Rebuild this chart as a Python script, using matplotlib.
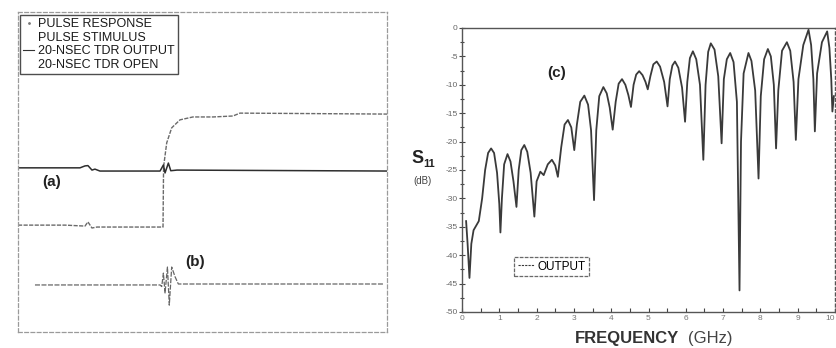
import matplotlib
matplotlib.use("Agg")
import matplotlib.pyplot as plt
from matplotlib.lines import Line2D

plt.rcParams['font.family'] = ['Liberation Sans', 'DejaVu Sans']

# ---------------- left panel data (time in ns, amplitude arbitrary) ----------------
tdr_open_t = [0, 2.55, 3.63, 3.79, 4.01, 4.28, 7.86, 7.89, 8.06, 8.33, 8.78, 9.48, 10.57, 11.65, 12.03, 20]
tdr_open_a = [33.4, 33.4, 33.1, 34.4, 32.5, 32.8, 32.8, 51.6, 59.1, 63.8, 66.3, 67.2, 67.2, 67.5, 68.4, 68.1]

tdr_out_t = [0, 3.36, 3.63, 3.79, 4.01, 4.17, 4.44, 7.70, 7.88, 7.97, 8.15, 8.28, 8.62, 20]
tdr_out_a = [51.3, 51.3, 51.9, 52.0, 50.6, 50.9, 50.3, 50.3, 52.2, 49.7, 52.8, 50.4, 50.6, 50.3]

pulse_resp_t = [0.92, 7.70, 7.79, 7.88, 7.97, 8.10, 8.20, 8.33, 8.51, 8.69, 19.78]
pulse_resp_a = [14.7, 14.7, 14.2, 18.4, 12.2, 20.3, 8.4, 20.3, 17.3, 15.0, 15.0]

legend_labels = ["PULSE RESPONSE", "PULSE STIMULUS", "20-NSEC TDR OUTPUT", "20-NSEC TDR OPEN"]

# ---------------- right panel data ----------------
freq_ghz = [0.11, 0.15, 0.20, 0.25, 0.31, 0.45, 0.54, 0.62, 0.70, 0.78, 0.86, 0.94, 1.00, 1.03, 1.07,
            1.13, 1.22, 1.30, 1.38, 1.46, 1.52, 1.59, 1.67, 1.75, 1.84, 1.94, 2.00, 2.10, 2.19, 2.30,
            2.41, 2.50, 2.57, 2.66, 2.75, 2.84, 2.93, 3.01, 3.08, 3.17, 3.28, 3.38, 3.46, 3.54, 3.60,
            3.68, 3.79, 3.88, 3.96, 4.04, 4.12, 4.20, 4.29, 4.38, 4.46, 4.53, 4.60, 4.67, 4.75, 4.84,
            4.92, 4.98, 5.05, 5.13, 5.22, 5.31, 5.42, 5.51, 5.57, 5.64, 5.71, 5.80, 5.90, 5.98, 6.04,
            6.11, 6.19, 6.28, 6.38, 6.47, 6.53, 6.60, 6.67, 6.77, 6.87, 6.96, 7.02, 7.10, 7.19, 7.28,
            7.37, 7.44, 7.48, 7.55, 7.68, 7.76, 7.86, 7.95, 8.01, 8.10, 8.20, 8.28, 8.36, 8.42, 8.48,
            8.58, 8.71, 8.80, 8.89, 8.95, 9.02, 9.15, 9.29, 9.36, 9.42, 9.46, 9.52, 9.65, 9.79, 9.85,
            9.90, 9.93, 9.97]
s11_db = [-34, -38, -44, -38, -35.6, -34, -30, -25, -22, -21.2, -22, -25.5, -31, -36, -30,
          -24, -22.2, -23.5, -27, -31.5, -25, -21.5, -20.6, -21.8, -25.5, -33.2, -27, -25.3, -25.9, -24,
          -23.2, -24.2, -26.2, -21, -17, -16.2, -17.5, -21.5, -17, -13, -11.9, -13.5, -18, -30.3, -18,
          -12, -10.4, -11.5, -14, -17.9, -13, -9.8, -9.0, -10, -11.8, -13.9, -10, -8.2, -7.6, -8.3,
          -9.5, -10.8, -8.5, -6.4, -5.9, -6.8, -9.5, -13.8, -9, -6.6, -5.9, -7, -10.5, -16.5, -9.5,
          -5.3, -4.1, -5.5, -10, -23.2, -10, -4.2, -2.7, -3.8, -8.5, -20.3, -9, -5.5, -4.4, -6,
          -13, -46.2, -20, -8, -4.4, -5.8, -11, -26.5, -12, -5.5, -3.7, -5, -10, -21.2, -11,
          -4, -2.5, -4, -9.5, -19.7, -9, -3, -0.3, -3, -9, -18.2, -8, -2.5, -0.6, -3.5,
          -9, -14.7, -12]

xticks = [0, 1, 2, 3, 4, 5, 6, 7, 8, 9, 10]
yticks = [0, -5, -10, -15, -20, -25, -30, -35, -40, -45, -50]

W, H = 836, 348
fig = plt.figure(figsize=(W / 100, H / 100), dpi=100)

# ---------------- left panel ----------------
axl = fig.add_axes([18 / W, 1 - 332 / H, 369 / W, 320 / H])
axl.set_xlim(0, 20)
axl.set_ylim(0, 100)
axl.set_xticks([])
axl.set_yticks([])
for s in axl.spines.values():
    s.set_linestyle((0, (3, 2)))
    s.set_color('#9a9a9a')
    s.set_linewidth(0.9)

axl.plot(tdr_open_t, tdr_open_a, color='#6a6a6a', lw=1.0, linestyle=(0, (3, 1)))
axl.plot(tdr_out_t, tdr_out_a, color='#2e2e2e', lw=1.1)
axl.plot(pulse_resp_t, pulse_resp_a, color='#666666', lw=0.9, linestyle=(0, (4, 1.2)))

handles = [
    Line2D([], [], color='#777777', marker='.', markersize=2, linestyle='none'),
    Line2D([], [], color='none'),
    Line2D([], [], color='#333333', lw=0.8),
    Line2D([], [], color='none'),
]
leg = axl.legend(handles, legend_labels, loc='upper left', bbox_to_anchor=(0.005, 0.99),
                 borderaxespad=0, fontsize=9, handlelength=0.9, handletextpad=0.3,
                 labelspacing=0.12, borderpad=0.25, frameon=True, fancybox=False)
leg.get_frame().set_edgecolor('#222222')
leg.get_frame().set_linewidth(1.0)
for t in leg.get_texts():
    t.set_color('#1a1a1a')

fig.text(42 / W, 1 - 182 / H, "(a)", fontsize=11, fontweight='bold', va='center', ha='left', color='#222222')
fig.text(185 / W, 1 - 262 / H, "(b)", fontsize=11, fontweight='bold', va='center', ha='left', color='#222222')

# ---------------- right panel ----------------
axr = fig.add_axes([462 / W, 1 - 312 / H, (835 - 462) / W, (312 - 28) / H])
axr.plot(freq_ghz, s11_db, color='#3a3a3a', lw=1.3, label='OUTPUT')
axr.set_xlim(0, 10)
axr.set_ylim(-50, 0)
axr.set_xticks(xticks)
axr.set_xticklabels([str(v) for v in xticks])
axr.set_yticks(yticks)
axr.set_yticklabels([str(v) for v in yticks])
axr.set_xticks([v + 0.5 for v in xticks[:-1]], minor=True)
axr.set_yticks([v - 2.5 for v in yticks[:-1]], minor=True)
axr.tick_params(axis='x', which='both', direction='in', length=3, width=0.8, colors='#444444',
                labelsize=6, pad=2, labelcolor='#777777')
axr.tick_params(axis='y', which='both', direction='inout', length=4, width=0.8, colors='#444444',
                labelsize=6, pad=1, labelcolor='#666666')
axr.tick_params(axis='y', which='minor', length=3)
axr.get_xticklabels()[-1].set_horizontalalignment('right')
for name, s in axr.spines.items():
    s.set_color('#555555')
    s.set_linewidth(1.0)
axr.spines['top'].set_linestyle((0, (4, 1)))
axr.spines['right'].set_linestyle((0, (2, 2)))

lg2 = axr.legend(loc='upper left', bbox_to_anchor=((514 - 462) / 373, 1 - (257 - 28) / 284),
                 borderaxespad=0, fontsize=8.5, handlelength=1.4, handletextpad=0.3,
                 borderpad=0.3, frameon=True, fancybox=False)
lg2.get_lines()[0].set_linestyle((0, (2, 1)))
lg2.get_lines()[0].set_linewidth(0.8)
lg2.get_frame().set_edgecolor('#444444')
lg2.get_frame().set_linestyle((0, (3, 1)))
lg2.get_frame().set_linewidth(0.9)

fig.text(547 / W, 1 - 73 / H, "(c)", fontsize=11, fontweight='bold', va='center', ha='left', color='#222222')

fig.text(411 / W, 1 - 158 / H, "S", fontsize=13, fontweight='bold', va='center', ha='left', color='#222222')
fig.text(423 / W, 1 - 164 / H, "11", fontsize=8, fontweight='bold', va='center', ha='left', color='#222222')
fig.text(413 / W, 1 - 181 / H, "(dB)", fontsize=7, va='center', ha='left', color='#444444')

fig.text(575 / W, 1 - 339 / H, "FREQUENCY", fontsize=12, fontweight='bold', va='center', ha='left', color='#333333')
fig.text(688 / W, 1 - 339 / H, "(GHz)", fontsize=12, va='center', ha='left', color='#444444')

fig.savefig("out.png", dpi=100)
